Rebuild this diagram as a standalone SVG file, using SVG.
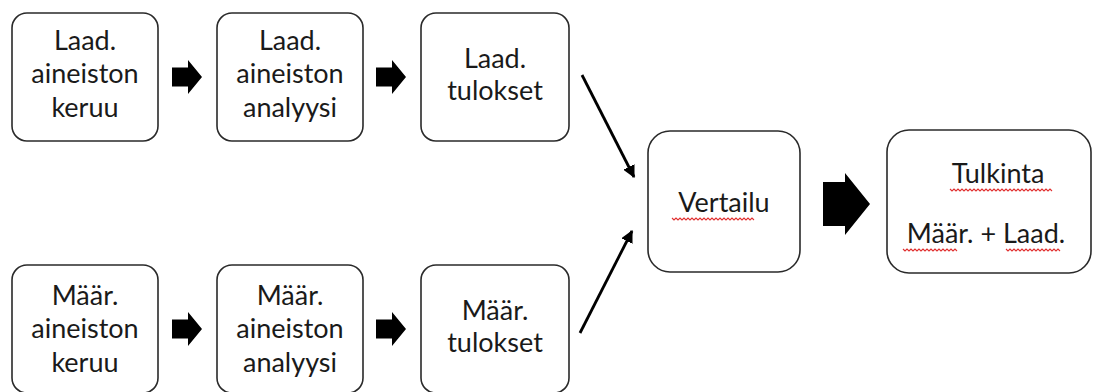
<svg xmlns="http://www.w3.org/2000/svg" width="1094" height="392" viewBox="0 0 1094 392">
<defs>
<style>
.box{fill:#fff;stroke:#2a2a2a;stroke-width:1.6}
.t{font-family:Lato,"Liberation Sans",sans-serif;font-size:27px;fill:#1a1a1a;text-anchor:middle}
.blk{fill:#000}
.ln{stroke:#000;stroke-width:2.8;fill:none}
.sq{stroke:#e03030;stroke-width:1.1;fill:none}
</style>
<marker id="ah" viewBox="0 0 10 10" refX="9" refY="5" markerWidth="4.5" markerHeight="4.5" orient="auto" markerUnits="strokeWidth">
<path d="M0,0 L10,5 L0,10 z" fill="#000"/>
</marker>
<path id="blockarrow" d="M0,-9.5 L16,-9.5 L16,-17 L30,0 L16,17 L16,9.5 L0,9.5 z"/>
</defs>
<g id="n1"><rect class="box" x="12" y="13" width="146" height="128" rx="15"/>
<text class="t" x="85" y="50">Laad.</text><text class="t" x="85" y="83">aineiston</text><text class="t" x="85" y="117">keruu</text></g>
<g id="n2"><rect class="box" x="217" y="13" width="146" height="128" rx="15"/>
<text class="t" x="290" y="50">Laad.</text><text class="t" x="290" y="83">aineiston</text><text class="t" x="290" y="117">analyysi</text></g>
<g id="n3"><rect class="box" x="421" y="13" width="148" height="128" rx="15"/>
<text class="t" x="495" y="68">Laad.</text><text class="t" x="495" y="100">tulokset</text></g>
<g id="n4"><rect class="box" x="12" y="265" width="146" height="128" rx="15"/>
<text class="t" x="85" y="305">Määr.</text><text class="t" x="85" y="338">aineiston</text><text class="t" x="85" y="372">keruu</text></g>
<g id="n5"><rect class="box" x="217" y="265" width="146" height="128" rx="15"/>
<text class="t" x="290" y="305">Määr.</text><text class="t" x="290" y="338">aineiston</text><text class="t" x="290" y="372">analyysi</text></g>
<g id="n6"><rect class="box" x="421" y="265" width="148" height="128" rx="15"/>
<text class="t" x="495" y="320">Määr.</text><text class="t" x="495" y="352">tulokset</text></g>
<g id="n7"><rect class="box" x="648" y="131" width="152" height="141" rx="22"/>
<text class="t" x="724" y="212">Vertailu</text>
<path class="sq" d="M672,218 l2,2 l2,-2 l2,2 l2,-2 l2,2 l2,-2 l2,2 l2,-2 l2,2 l2,-2 l2,2 l2,-2 l2,2 l2,-2 l2,2 l2,-2 l2,2 l2,-2 l2,2 l2,-2 l2,2 l2,-2 l2,2 l2,-2 l2,2 l2,-2 l2,2 l2,-2 l2,2 l2,-2 l2,2 l2,-2 l2,2 l2,-2 l2,2 l2,-2 l2,2 l2,-2 l2,2 l2,-2 l2,2"/></g>
<g id="n8"><rect class="box" x="887" y="130" width="204" height="143" rx="22"/>
<text class="t" x="998" y="183">Tulkinta</text>
<path class="sq" d="M950,189 l2,2 l2,-2 l2,2 l2,-2 l2,2 l2,-2 l2,2 l2,-2 l2,2 l2,-2 l2,2 l2,-2 l2,2 l2,-2 l2,2 l2,-2 l2,2 l2,-2 l2,2 l2,-2 l2,2 l2,-2 l2,2 l2,-2 l2,2 l2,-2 l2,2 l2,-2 l2,2 l2,-2 l2,2 l2,-2 l2,2 l2,-2 l2,2 l2,-2 l2,2 l2,-2 l2,2 l2,-2 l2,2 l2,-2 l2,2 l2,-2 l2,2 l2,-2 l2,2 l2,-2 l2,2 l2,-2 l2,2"/>
<text class="t" x="986" y="243">Määr. + Laad.</text>
<path class="sq" d="M903,249 l2,2 l2,-2 l2,2 l2,-2 l2,2 l2,-2 l2,2 l2,-2 l2,2 l2,-2 l2,2 l2,-2 l2,2 l2,-2 l2,2 l2,-2 l2,2 l2,-2 l2,2 l2,-2 l2,2 l2,-2 l2,2 l2,-2 l2,2 l2,-2 l2,2"/>
<path class="sq" d="M1006,249 l2,2 l2,-2 l2,2 l2,-2 l2,2 l2,-2 l2,2 l2,-2 l2,2 l2,-2 l2,2 l2,-2 l2,2 l2,-2 l2,2 l2,-2 l2,2 l2,-2 l2,2 l2,-2 l2,2 l2,-2 l2,2 l2,-2 l2,2 l2,-2 l2,2"/></g>
<g id="connectors">
<use href="#blockarrow" class="blk" x="172" y="77"/>
<use href="#blockarrow" class="blk" x="376" y="77"/>
<use href="#blockarrow" class="blk" x="172" y="329"/>
<use href="#blockarrow" class="blk" x="376" y="329"/>
<path class="blk" d="M823,182 L845,182 L845,173 L870,204 L845,235 L845,226 L823,226 z"/>
<line class="ln" x1="582" y1="75" x2="634" y2="177" marker-end="url(#ah)"/>
<line class="ln" x1="580" y1="333" x2="632" y2="231" marker-end="url(#ah)"/>
</g>
</svg>
